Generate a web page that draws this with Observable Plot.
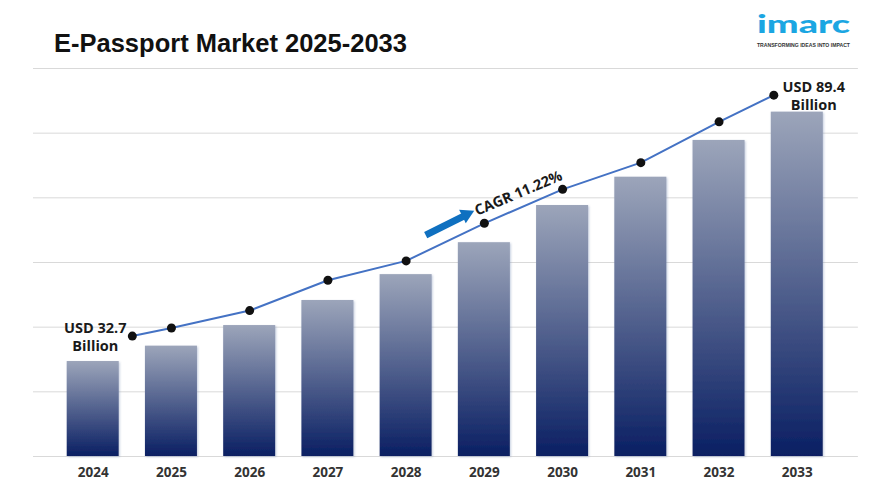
<!DOCTYPE html>
<html>
<head>
<meta charset="utf-8">
<script src="https://cdn.jsdelivr.net/npm/d3@7"></script>
<script src="https://cdn.jsdelivr.net/npm/@observablehq/plot@0.6"></script>
<style>
  body { margin: 0; background: #fff; }
  #wrap { position: relative; width: 870px; height: 484px; overflow: hidden; background: #fff; }
  #chart { position: absolute; left: 0; top: 0; }
  #title { position: absolute; left: 54px; top: 30.7px; font-family: "Liberation Sans", Arial, sans-serif;
           font-weight: bold; font-size: 25.5px; line-height: 1; color: #111; white-space: nowrap; }
  #logo { position: absolute; left: 0; top: 0; }
  g[fill="url(#barGrad)"] { filter: url(#barShadow); }
</style>
</head>
<body>
<div id="wrap">
  <div id="chart"></div>
  <div id="title">E-Passport Market 2025-2033</div>
  <svg id="logo" width="870" height="60">
    <text x="757" y="33" textLength="93" lengthAdjust="spacingAndGlyphs"
          font-family="Lato, 'Open Sans', sans-serif" font-weight="900" font-size="24" fill="#1ba6e2">imarc</text>
    <text x="757" y="46.5" textLength="93" lengthAdjust="spacingAndGlyphs"
          font-family="'Liberation Sans', Arial, sans-serif" font-weight="700" font-size="4.6" fill="#333">TRANSFORMING IDEAS INTO IMPACT</text>
  </svg>
</div>
<script>
// ---- data ----
const years = [2024, 2025, 2026, 2027, 2028, 2029, 2030, 2031, 2032, 2033];
const barValues = [23.5, 27.3, 32.4, 38.6, 45.0, 52.9, 62.1, 69.1, 78.2, 85.2];
const lineYears = [2024.5, 2025, 2026, 2027, 2028, 2029, 2030, 2031, 2032, 2032.7];
const lineValues = [29.8, 31.8, 36.1, 43.6, 48.4, 57.7, 66.1, 72.7, 82.8, 89.4];
const gridTicks = [0, 16, 32, 48, 64, 80, 96];
const startLabel = "USD 32.7\nBillion";
const endLabel = "USD 89.4\nBillion";
const cagrLabel = "CAGR 11.22%";
const arrowBody = [{x1: 2028.25, y1: 54.8, x2: 2028.73, y2: 59.4}];
const arrowHead = [{x: 2028.77, y: 59.87}];

const bars = years.map((year, i) => ({year, value: barValues[i]}));
const line = lineYears.map((x, i) => ({x, y: lineValues[i]}));
const cagrPos = [{x: (lineYears[5] + lineYears[6]) / 2, y: (lineValues[5] + lineValues[6]) / 2}];

const defs = () => {
  const ns = "http://www.w3.org/2000/svg";
  const d = document.createElementNS(ns, "defs");
  d.innerHTML = `<linearGradient id="barGrad" x1="0" y1="0" x2="0" y2="1">
      <stop offset="0" stop-color="#9ca5ba"/>
      <stop offset="1" stop-color="#0a1f63"/>
    </linearGradient>
    <filter id="barShadow" x="-20%" y="-5%" width="140%" height="110%">
      <feDropShadow dx="1" dy="1" stdDeviation="1.2" flood-color="#7d8fb8" flood-opacity="0.45"/>
    </filter>`;
  return d;
};

const chart = Plot.plot({
  width: 870,
  height: 484,
  marginLeft: 53.6,
  marginRight: 34.1,
  marginTop: 68,
  marginBottom: 28,
  x: {type: "linear", domain: [2023.5, 2033.5], axis: null},
  y: {domain: [0, 96], axis: null},
  style: {fontFamily: "'Open Sans', sans-serif", background: "transparent", overflow: "visible"},
  marks: [
    defs,
    Plot.ruleY(gridTicks, {stroke: "#d9d9d9", strokeWidth: 1, insetLeft: -20.6, insetRight: -22}),
    Plot.rectY(bars, {
      x1: d => d.year - 0.3325, x2: d => d.year + 0.3325, y: "value",
      fill: "url(#barGrad)"
    }),
    Plot.axisX({
      ticks: years, tickFormat: d => String(d), tickSize: 0, tickPadding: 11,
      fontSize: 13.5, fontWeight: "bold", fill: "#333"
    }),
    Plot.link(arrowBody, {x1: "x1", y1: "y1", x2: "x2", y2: "y2", stroke: "#0f70c0", strokeWidth: 7}),
    Plot.dot(arrowHead, {x: "x", y: "y", symbol: "triangle", r: 5.6, fill: "#0f70c0", rotate: 64}),
    Plot.line(line, {x: "x", y: "y", stroke: "#4472c4", strokeWidth: 2}),
    Plot.dot(line, {x: "x", y: "y", r: 4.5, fill: "#111"}),
    Plot.text([line[0]], {
      x: "x", y: "y", text: () => startLabel, dx: -37, lineAnchor: "middle", lineHeight: 1.25,
      fontSize: 14.5, fontWeight: "bold", fill: "#1a1a1a"
    }),
    Plot.text([line[line.length - 1]], {
      x: "x", y: "y", text: () => endLabel, dx: 40, lineAnchor: "middle", lineHeight: 1.25,
      fontSize: 14.5, fontWeight: "bold", fill: "#1a1a1a"
    }),
    Plot.text(cagrPos, {
      x: "x", y: "y", text: () => cagrLabel, dx: -5, dy: -13, rotate: -23,
      fontSize: 14.5, fontWeight: "bold", fill: "#1a1a1a"
    })
  ]
});
document.getElementById("chart").appendChild(chart);
</script>
</body>
</html>
